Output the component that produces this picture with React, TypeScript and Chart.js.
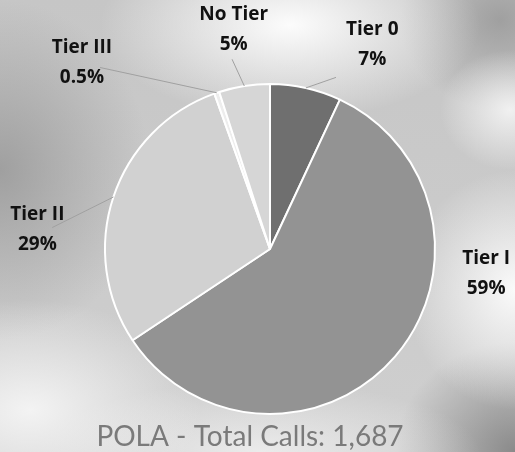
import React, { useEffect, useRef } from "react";
import { Chart, registerables } from "chart.js";

Chart.register(...registerables);

const categories = ["Tier 0", "Tier I", "Tier II", "Tier III", "No Tier"];
const values = [7, 59, 29, 0.5, 5];
const valueLabels = ["7%", "59%", "29%", "0.5%", "5%"];
const sliceColors = ["#6f6f6f", "#939393", "#d1d1d1", "#ededed", "#d6d6d6"];
const titleText = "POLA - Total Calls: 1,687";

// label placement relative to pie center, in units of radius (styling only)
const labelOffsets: [number, number][] = [
  [0.62, -1.24],
  [1.31, 0.15],
  [-1.41, -0.12],
  [-1.14, -1.13],
  [-0.22, -1.33],
];
const leaderEnds: ([number, number] | null)[] = [
  [0.4, -1.04],
  null,
  [-1.32, -0.13],
  [-1.03, -1.1],
  [-0.23, -1.15],
];

const labelPlugin = {
  id: "pieLabels",
  afterDraw(chart: any) {
    const ctx = chart.ctx;
    const meta = chart.getDatasetMeta(0);
    const arc0 = meta.data[0];
    const cx = arc0.x;
    const cy = arc0.y;
    const r = arc0.outerRadius;
    ctx.save();
    meta.data.forEach((arc: any, i: number) => {
      const mid = (arc.startAngle + arc.endAngle) / 2;
      const le = leaderEnds[i];
      if (le) {
        const sx = cx + Math.cos(mid) * r;
        const sy = cy + Math.sin(mid) * r;
        ctx.strokeStyle = "#a0a0a0";
        ctx.lineWidth = 1;
        ctx.beginPath();
        ctx.moveTo(sx, sy);
        ctx.lineTo(cx + le[0] * r, cy + le[1] * r);
        ctx.stroke();
      }
      const lx = cx + labelOffsets[i][0] * r;
      const ly = cy + labelOffsets[i][1] * r;
      ctx.fillStyle = "#111111";
      ctx.font = "bold 19px 'Open Sans'";
      ctx.textAlign = "center";
      ctx.textBaseline = "middle";
      ctx.fillText(categories[i], lx, ly - 15);
      ctx.fillText(valueLabels[i], lx, ly + 15);
    });
    ctx.fillStyle = "#7a7a7a";
    ctx.font = "28px Lato";
    ctx.textAlign = "center";
    ctx.textBaseline = "middle";
    ctx.fillText(titleText, 250, 437);
    ctx.restore();
  },
};

export default function App() {
  const ref = useRef<HTMLCanvasElement | null>(null);
  useEffect(() => {
    if (!ref.current) return;
    const chart = new Chart(ref.current, {
      type: "pie",
      data: {
        labels: categories,
        datasets: [
          {
            data: values,
            backgroundColor: sliceColors,
            borderColor: "#ffffff",
            borderWidth: 2,
          },
        ],
      },
      options: {
        animation: false,
        responsive: false,
        layout: { padding: { top: 82, bottom: 36, left: 104, right: 79 } },
        plugins: {
          legend: { display: false },
          tooltip: { enabled: false },
          title: { display: false },
        },
      },
      plugins: [labelPlugin],
    });
    return () => chart.destroy();
  }, []);

  const bg = [
    "radial-gradient(ellipse 190px 95px at 290px 25px, rgba(252,252,252,1), rgba(252,252,252,0) 100%)",
    "radial-gradient(ellipse 70px 60px at 510px 110px, rgba(245,245,245,0.9), rgba(245,245,245,0) 100%)",
    "radial-gradient(ellipse 110px 120px at 515px 290px, rgba(250,250,250,1), rgba(250,250,250,0) 100%)",
    "radial-gradient(ellipse 170px 110px at 30px 410px, rgba(245,245,245,0.95), rgba(245,245,245,0) 100%)",
    "radial-gradient(ellipse 220px 70px at 260px 452px, rgba(238,238,238,0.9), rgba(238,238,238,0) 100%)",
    "radial-gradient(ellipse 100px 90px at 500px 20px, rgba(150,150,150,0.8), rgba(150,150,150,0) 100%)",
    "radial-gradient(ellipse 150px 170px at 0px 170px, rgba(155,155,155,0.9), rgba(155,155,155,0) 100%)",
    "radial-gradient(ellipse 120px 110px at 515px 452px, rgba(130,130,130,0.9), rgba(130,130,130,0) 100%)",
    "linear-gradient(180deg, #c6c6c6, #cfcfcf)",
  ].join(",");

  return (
    <div
      style={{
        position: "fixed",
        left: 0,
        top: 0,
        width: 515,
        height: 452,
        background: bg,
      }}
    >
      <canvas ref={ref} width={515} height={452} style={{ display: "block" }} />
    </div>
  );
}
